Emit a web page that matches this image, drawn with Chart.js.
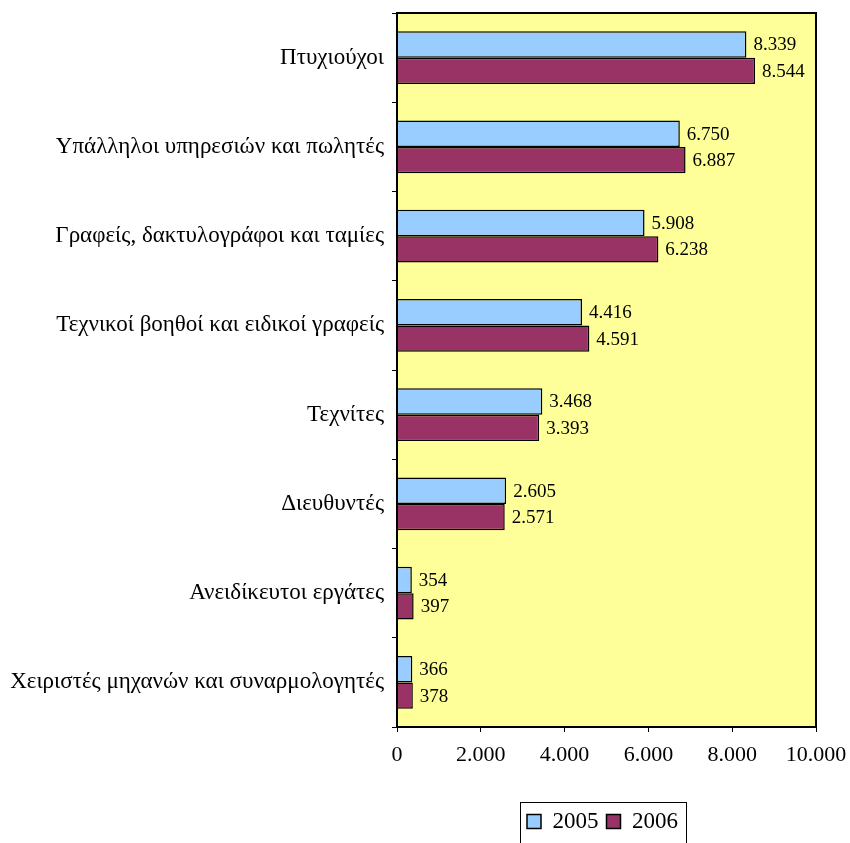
<html>
    <head>
        <meta name="viewport" content="width=device-width, initial-scale=1.0">
        <meta http-equiv="content-type" content="text/html; charset=UTF-8">
        <script src="https://cdn.jsdelivr.net/npm/chart.js"></script>
        <title>Πτυχιούχοι 2005 - 2006</title>
        <style>
            body { margin: 0; background: #fff; }
        </style>
    </head>
    <body>
        <div style="position: relative; width: 850px; height: 843px">
            <canvas id="chart"></canvas>
        </div>

        <script>
            const categories = [
                'Πτυχιούχοι',
                'Υπάλληλοι υπηρεσιών και πωλητές',
                'Γραφείς, δακτυλογράφοι και ταμίες',
                'Τεχνικοί βοηθοί και ειδικοί γραφείς',
                'Τεχνίτες',
                'Διευθυντές',
                'Ανειδίκευτοι εργάτες',
                'Χειριστές μηχανών και συναρμολογητές'
            ];
            const values2005 = [8339, 6750, 5908, 4416, 3468, 2605, 354, 366];
            const values2006 = [8544, 6887, 6238, 4591, 3393, 2571, 397, 378];
            const seriesNames = ['2005', '2006'];

            const serif = '"Liberation Serif", "DejaVu Serif", serif';

            // 8339 -> "8.339"
            function fmt(v) {
                return String(Math.round(v)).replace(/\B(?=(\d{3})+(?!\d))/g, '.');
            }

            const plotFrame = {
                id: 'plotFrame',
                afterLayout(chart) {
                    // centre the legend under the plot area, not the whole canvas
                    chart.legend.left = chart.chartArea.left - 4;
                    chart.legend.right = chart.chartArea.right - 4;
                },
                beforeDatasetsDraw(chart) {
                    const a = chart.chartArea, c = chart.ctx;
                    c.save();
                    c.fillStyle = '#FFFF99';
                    c.fillRect(a.left, a.top, a.right - a.left, a.bottom - a.top);
                    c.restore();
                },
                afterDatasetsDraw(chart) {
                    const a = chart.chartArea, c = chart.ctx;
                    c.save();
                    c.strokeStyle = '#000';
                    c.lineWidth = 2;
                    c.strokeRect(a.left, a.top, a.right - a.left, a.bottom - a.top);

                    // value labels at the end of each bar
                    c.fillStyle = '#000';
                    c.font = '19px ' + serif;
                    c.textAlign = 'left';
                    c.textBaseline = 'middle';
                    chart.data.datasets.forEach((ds, i) => {
                        chart.getDatasetMeta(i).data.forEach((bar, j) => {
                            c.fillText(fmt(ds.data[j]), bar.x + 7, bar.y + 1);
                        });
                    });
                    c.restore();
                },
                afterDraw(chart) {
                    // box round the legend items only
                    const hb = chart.legend.legendHitBoxes;
                    if (!hb || !hb.length) return;
                    const c = chart.ctx;
                    const left = hb[0].left - 7;
                    const last = hb[hb.length - 1];
                    const right = last.left + last.width + 8;
                    const top = hb[0].top - 8;
                    c.save();
                    c.strokeStyle = '#000';
                    c.lineWidth = 1;
                    c.strokeRect(left + 0.5, top + 0.5, right - left, 60);
                    c.restore();
                }
            };

            var chart = new Chart(document.getElementById('chart'), {
                type: 'bar',
                data: {
                    labels: categories,
                    datasets: [{
                        label: seriesNames[0],
                        data: values2005,
                        backgroundColor: '#99CCFF',
                        borderColor: '#000',
                        borderWidth: 1.5
                    }, {
                        label: seriesNames[1],
                        data: values2006,
                        backgroundColor: '#993366',
                        borderColor: '#000',
                        borderWidth: 1.5
                    }]
                },
                options: {
                    indexAxis: 'y',
                    animation: false,
                    responsive: true,
                    maintainAspectRatio: false,
                    devicePixelRatio: 1,
                    layout: { padding: { top: 13, right: 34, left: 0, bottom: 0 } },
                    datasets: {
                        bar: { categoryPercentage: 0.59, barPercentage: 1.0 }
                    },
                    scales: {
                        x: {
                            min: 0,
                            max: 10000,
                            ticks: {
                                stepSize: 2000,
                                color: '#000',
                                padding: 10,
                                maxRotation: 0,
                                font: { family: serif, size: 22 },
                                callback: (v) => fmt(v)
                            },
                            grid: { drawOnChartArea: false, tickLength: 5, color: '#000' },
                            border: { display: false },
                            afterFit: (s) => {
                                s.height = 75;
                                s.paddingLeft = 0;
                                s.paddingRight = 0;
                            }
                        },
                        y: {
                            ticks: {
                                color: '#000',
                                padding: 8,
                                font: { family: serif, size: 23, lineHeight: 1 }
                            },
                            grid: { drawOnChartArea: false, offset: true, tickLength: 5, color: '#000' },
                            border: { display: false },
                            afterFit: (s) => {
                                s.width = 397;
                                s.paddingTop = 0;
                                s.paddingBottom = 0;
                            }
                        }
                    },
                    plugins: {
                        legend: {
                            position: 'bottom',
                            maxWidth: 170,
                            labels: {
                                color: '#000',
                                font: { family: serif, size: 23 },
                                boxWidth: 14,
                                boxHeight: 14,
                                padding: 8,
                                generateLabels: (chart) => chart.data.datasets.map((ds, i) => ({
                                    text: ds.label,
                                    fillStyle: ds.backgroundColor,
                                    strokeStyle: '#000',
                                    lineWidth: 1.5,
                                    datasetIndex: i
                                }))
                            }
                        },
                        tooltip: { enabled: false }
                    }
                },
                plugins: [plotFrame]
            });
        </script>
    </body>
</html>
